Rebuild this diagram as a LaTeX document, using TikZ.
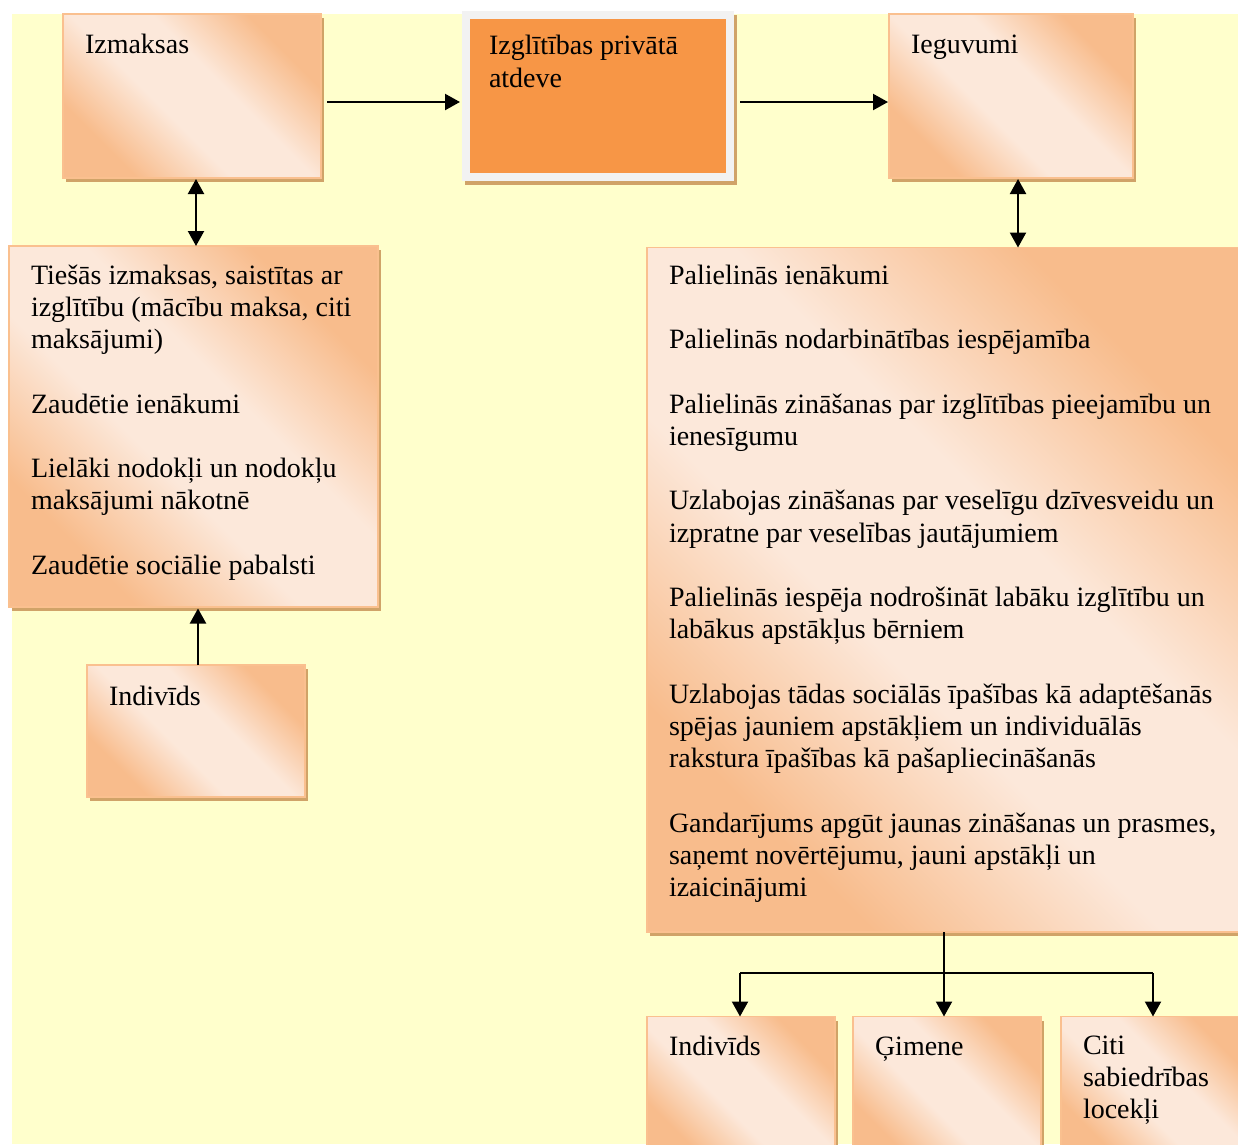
\documentclass[tikz,border=0pt]{standalone}
\usepackage{fontspec}
\setmainfont{Liberation Serif}
\usetikzlibrary{arrows.meta,shadows,calc}
\definecolor{bgy}{HTML}{FFFFCC}
\definecolor{bdark}{HTML}{F8BC8C}
\definecolor{blight}{HTML}{FCE8DA}
\definecolor{bborder}{HTML}{FAC08F}
\definecolor{shadowc}{HTML}{D0A368}
\definecolor{midor}{HTML}{F79646}
\definecolor{midrim}{HTML}{F2F2F2}
\pgfdeclarehorizontalshading{boxsh}{100bp}{color(0bp)=(bdark); color(27bp)=(bdark); color(43bp)=(blight); color(57bp)=(blight); color(73bp)=(bdark); color(100bp)=(bdark)}
\newcommand\fstrut{\rule{0pt}{24pt}}
\newcommand\pgap{\\[32.26pt]}
\begin{document}
\begin{tikzpicture}[x=1pt,y=-1pt,
  box/.style={draw=bborder, line width=1.5pt, shade, shading=boxsh, shading angle=45,
    drop shadow={shadow xshift=3pt, shadow yshift=-4pt, fill=shadowc, opacity=1},
    inner sep=0pt, outer sep=0pt},
  txt/.style={anchor=north west, inner sep=0pt, outer sep=0pt, align=left,
    font=\fontsize{28}{32.26}\selectfont},
  arr/.style={line width=2.2pt, -{Triangle[length=15pt,width=16pt]}},
  darr/.style={line width=2.2pt, {Triangle[length=15pt,width=16pt]}-{Triangle[length=15pt,width=16pt]}},
  conn/.style={line width=2.2pt}]
\useasboundingbox (0,0) rectangle (1238,1144);
\clip (0,0) rectangle (1238,1144);
\fill[white] (0,0) rectangle (1238,1144);
\fill[bgy] (12,14) rectangle (1238,1144);

% top row
\node[box, minimum width=258pt, minimum height=164pt] (izm) at (192,96) {};
\node[fill=midrim, inner sep=0pt, outer sep=0pt, minimum width=272pt, minimum height=170pt,
  drop shadow={shadow xshift=3pt, shadow yshift=-4pt, fill=shadowc, opacity=1}] (mid) at (598,96) {};
\node[fill=midor, inner sep=0pt, outer sep=0pt, minimum width=256pt, minimum height=154pt] (midin) at (mid.center) {};
\node[box, minimum width=244pt, minimum height=164pt] (ieg) at (1011,96) {};

% second row
\node[box, minimum width=369pt, minimum height=361pt] (cost) at (193.5,426.5) {};
\node[box, minimum width=603pt, minimum height=684.5pt] (gain) at (948.5,589.75) {};

% lower boxes
\node[box, minimum width=218pt, minimum height=132pt] (indL) at (196,731) {};
\node[box, minimum width=188pt, minimum height=143.5pt] (indR) at (741,1088.25) {};
\node[box, minimum width=188pt, minimum height=143.5pt] (gim) at (947,1088.25) {};
\node[box, minimum width=189pt, minimum height=143.5pt] (citi) at (1155.5,1088.25) {};

% texts
\node[txt] (tizm) at (85,29) {\fstrut Izmaksas};
\node[txt, font=\fontsize{28}{33.5}\selectfont] (tmid) at (489,30) {\fstrut Izglītības privātā\\atdeve};
\node[txt] (tieg) at (911,29) {\fstrut Ieguvumi};
\node[txt] (tcost) at (31,260) {\fstrut Tiešās izmaksas, saistītas ar\\izglītību (mācību maksa, citi\\maksājumi)\pgap
Zaudētie ienākumi\pgap
Lielāki nodokļi un nodokļu\\maksājumi nākotnē\pgap
Zaudētie sociālie pabalsti};
\node[txt] (tgain) at (669,260) {\fstrut Palielinās ienākumi\pgap
Palielinās nodarbinātības iespējamība\pgap
Palielinās zināšanas par izglītības pieejamību un\\ienesīgumu\pgap
Uzlabojas zināšanas par veselīgu dzīvesveidu un\\izpratne par veselības jautājumiem\pgap
Palielinās iespēja nodrošināt labāku izglītību un\\labākus apstākļus bērniem\pgap
Uzlabojas tādas sociālās īpašības kā adaptēšanās\\spējas jauniem apstākļiem un individuālās\\rakstura īpašības kā pašapliecināšanās\pgap
Gandarījums apgūt jaunas zināšanas un prasmes,\\saņemt novērtējumu, jauni apstākļi un\\izaicinājumi};
\node[txt] (tindL) at (109,681) {\fstrut Indivīds};
\node[txt] (tindR) at (669,1031) {\fstrut Indivīds};
\node[txt] (tgim) at (875,1031) {\fstrut Ģimene};
\node[txt] (tciti) at (1083,1030) {\fstrut Citi\\sabiedrības\\locekļi};

% connectors
\draw[arr] ($(izm.east)+(6,6)$) -- ($(mid.west)+(-2,6)$);
\draw[arr] ($(mid.east)+(6,6)$) -- ($(ieg.west)+(-1,6)$);
\coordinate (c1) at ($(izm.south)+(4,1)$);
\draw[darr] (c1) -- (c1 |- cost.north);
\coordinate (c2) at ($(ieg.south)+(7,1)$);
\draw[darr] (c2) -- (c2 |- gain.north);
\coordinate (c3) at ($(indL.north)+(2,0)$);
\draw[arr, shorten >=1.5pt] (c3) -- (c3 |- cost.south);
\coordinate (split) at (944,973);
\draw[conn] (gain.south -| split) -- (split);
\draw[conn] ($(indR.north |- split)+(-1,0)$) -- ($(citi.north |- split)+(-2.5,0)$);
\draw[arr] ($(indR.north |- split)+(-1,0)$) -- ($(indR.north)+(-1,0)$);
\draw[arr] (split) -- (split |- gim.north);
\draw[arr] ($(citi.north |- split)+(-2.5,0)$) -- ($(citi.north)+(-2.5,0)$);
\end{tikzpicture}
\end{document}
